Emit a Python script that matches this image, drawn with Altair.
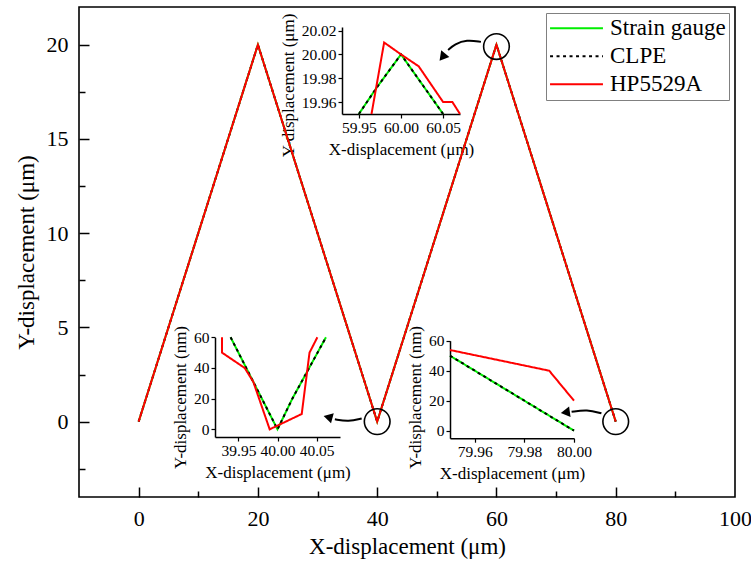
import altair as alt
import pandas as pd

FONT = "'Liberation Serif', 'Times New Roman', Times, serif"
W, H = 656, 490

series_names = ["Strain gauge", "CLPE", "HP5529A"]
series_colors = ["#00ee00", "#000000", "#ff0000"]
series_dashes = [[1, 0], [3, 3.5], [1, 0]]

# main triangle path (all three sensors)
main_x = [0, 20, 40, 60, 80]
main_y = [0, 20, 0, 20, 0]

# inset 1: around the peak at 60 um (um units)
in1_sg_x = [59.95, 59.97, 60.00, 60.05]
in1_sg_y = [19.95, 19.971, 20.00, 19.95]
in1_clpe_x = [59.95, 59.97, 60.00, 60.05]
in1_clpe_y = [19.95, 19.971, 20.00, 19.95]
in1_hp_x = [59.965, 59.98, 60.00, 60.021, 60.05, 60.061, 60.07]
in1_hp_y = [19.95, 20.01, 20.00, 19.99, 19.96, 19.96, 19.95]

# inset 2: around the valley at 40 um (y in nm)
in2_sg_x = [39.94, 40.00, 40.019, 40.062]
in2_sg_y = [60, 0, 20, 60]
in2_clpe_x = [39.94, 40.00, 40.019, 40.062]
in2_clpe_y = [60, 0, 20, 60]
in2_hp_x = [39.929, 39.929, 39.958, 39.969, 39.99, 40.031, 40.041, 40.051]
in2_hp_y = [60, 50, 40, 31, 0, 10, 50, 60]

# inset 3: near the end at 80 um (y in nm)
in3_sg_x = [79.95, 80.00]
in3_sg_y = [50, 0]
in3_clpe_x = [79.95, 80.00]
in3_clpe_y = [50, 0]
in3_hp_x = [79.95, 79.99, 80.00]
in3_hp_y = [53.8, 40, 20]

# circles marking zoomed regions
circle_x = [40, 60, 80]
circle_y = [0, 19.9, 0]

# curved arrows (main-chart data coordinates)
arrow_id = ["a1", "a1", "a1", "a1", "a2", "a2", "a2", "a3", "a3", "a3"]
arrow_x = [57.4, 55.0, 53.0, 51.9, 37.4, 35.2, 32.9, 77.6, 75.2, 72.6]
arrow_y = [20.15, 20.26, 20.03, 19.72, 0.17, -0.01, 0.12, 0.44, 0.65, 0.52]
head_x = [51.1, 32.0, 71.8]
head_y = [19.4, 0.22, 0.5]
head_angle = [219, 285, 262]

main_x_ticks = [0, 20, 40, 60, 80, 100]
main_x_major = [0, 20, 40, 60, 80]
main_x_minor = [10, 30, 50, 70, 90]
main_y_ticks = [0, 5, 10, 15, 20]
main_y_minor = [-2.5, 2.5, 7.5, 12.5, 17.5]


def long_df(parts):
    rows = []
    for name, xs, ys in parts:
        for i, (a, b) in enumerate(zip(xs, ys)):
            rows.append({"series": name, "x": a, "y": b, "i": i})
    return pd.DataFrame(rows)


def sc(domain, rng=None):
    kw = dict(domain=domain, nice=False, zero=False)
    if rng is not None:
        kw["range"] = rng
    return alt.Scale(**kw)


legend = alt.Legend(
    title=None, orient="top-right", offset=6, symbolType="stroke",
    symbolSize=2800, symbolStrokeWidth=2, labelFont=FONT, labelFontSize=23,
    labelColor="black", strokeColor="#808080", fillColor="white",
    padding=3, rowPadding=3, labelOffset=6, clipHeight=24.5,
)
color_enc = alt.Color("series:N", scale=alt.Scale(domain=series_names, range=series_colors), legend=legend)
dash_enc = alt.StrokeDash("series:N", scale=alt.Scale(domain=series_names, range=series_dashes), legend=legend)

MX = [-10, 100]
MY = [-4, 22]

main_df = long_df([(n, main_x, main_y) for n in series_names])
main_lines = alt.Chart(main_df).mark_line(strokeWidth=2).encode(
    x=alt.X("x:Q", scale=sc(MX), axis=alt.Axis(
        orient="bottom", values=main_x_ticks, ticks=False, domain=False, format="d",
        labelFont=FONT, titleFont=FONT,
        labelFontSize=22, labelPadding=11, title="X-displacement (μm)",
        titleFontSize=23, titlePadding=6)),
    y=alt.Y("y:Q", scale=sc(MY), axis=alt.Axis(
        orient="left", values=main_y_ticks, ticks=False, domain=False, format="d",
        labelFont=FONT, titleFont=FONT,
        labelFontSize=22, labelPadding=11, title="Y-displacement (μm)",
        titleFontSize=23, titlePadding=8)),
    color=color_enc, strokeDash=dash_enc, order="i:Q",
)

circ_df = pd.DataFrame({"x": circle_x, "y": circle_y})
circles = alt.Chart(circ_df).mark_point(
    shape="circle", size=660, filled=False, color="black", strokeWidth=1.6, opacity=1
).encode(
    x=alt.X("x:Q", scale=sc(MX), axis=alt.Axis(
        orient="top", offset=-H, values=main_x_major, labels=False, domain=False,
        tickSize=10, tickWidth=1.5, title=None)),
    y=alt.Y("y:Q", scale=sc(MY), axis=alt.Axis(
        orient="right", offset=-W, values=main_y_ticks, labels=False, domain=False,
        tickSize=10, tickWidth=1.5, title=None)),
)

arr_df = pd.DataFrame({"arrow": arrow_id, "x": arrow_x, "y": arrow_y})
arrows = alt.Chart(arr_df).mark_line(interpolate="basis", color="black", strokeWidth=2).encode(
    x=alt.X("x:Q", scale=sc(MX), axis=alt.Axis(
        orient="top", offset=-H, values=main_x_minor, labels=False, domain=False,
        tickSize=6, tickWidth=1.5, title=None)),
    y=alt.Y("y:Q", scale=sc(MY), axis=alt.Axis(
        orient="right", offset=-W, values=main_y_minor, labels=False, domain=False,
        tickSize=6, tickWidth=1.5, title=None)),
    detail="arrow:N",
)

head_df = pd.DataFrame({"x": head_x, "y": head_y, "a": head_angle})
heads = alt.Chart(head_df).mark_point(
    shape="triangle", filled=True, color="black", size=110, strokeWidth=0, opacity=1
).encode(
    x=alt.X("x:Q", scale=sc(MX), axis=None),
    y=alt.Y("y:Q", scale=sc(MY), axis=None),
    angle=alt.Angle("a:Q", scale=None),
)


def inset(parts, xdom, xrng, xvals, xfmt, ydom, yrng, yvals, yfmt, ytitle, xoff, yoff, ytitle_y):
    df = long_df(parts)
    ax_common = dict(labelFont=FONT, titleFont=FONT, labelFontSize=15.5, titleFontSize=17,
                     tickSize=4, tickWidth=1.2, domainWidth=1.5, labelPadding=2)
    return alt.Chart(df).mark_line(strokeWidth=2).encode(
        x=alt.X("x:Q", scale=sc(xdom, xrng), axis=alt.Axis(
            orient="bottom", offset=xoff, values=xvals, format=xfmt,
            title="X-displacement (μm)", titlePadding=6, **ax_common)),
        y=alt.Y("y:Q", scale=sc(ydom, yrng), axis=alt.Axis(
            orient="left", offset=yoff, values=yvals, format=yfmt,
            title=ytitle, titlePadding=4, titleY=ytitle_y, **ax_common)),
        color=color_enc, strokeDash=dash_enc, order="i:Q",
    )


inset1 = inset(
    [("Strain gauge", in1_sg_x, in1_sg_y), ("CLPE", in1_clpe_x, in1_clpe_y), ("HP5529A", in1_hp_x, in1_hp_y)],
    [59.93, 60.07], [263, 381], [59.95, 60.00, 60.05], ".2f",
    [19.95, 20.023], [107, 20], [19.96, 19.98, 20.00, 20.02], ".2f",
    "Y-displacement (μm)", 107 - H, -263, 78,
)
inset2 = inset(
    [("Strain gauge", in2_sg_x, in2_sg_y), ("CLPE", in2_clpe_x, in2_clpe_y), ("HP5529A", in2_hp_x, in2_hp_y)],
    [39.92, 40.08], [136, 261], [39.95, 40.00, 40.05], ".2f",
    [-5, 60], [430, 330.3], [0, 20, 40, 60], "d",
    "Y-displacement (nm)", 430 - H, -136, 390,
)
inset3 = inset(
    [("Strain gauge", in3_sg_x, in3_sg_y), ("CLPE", in3_clpe_x, in3_clpe_y), ("HP5529A", in3_hp_x, in3_hp_y)],
    [79.95, 80.00], [371, 495], [79.96, 79.98, 80.00], ".2f",
    [-5, 60], [431.2, 333.7], [0, 20, 40, 60], "d",
    "Y-displacement (nm)", 431.2 - H, -371, 390,
)

chart = alt.layer(main_lines, circles, arrows, heads, inset1, inset2, inset3).resolve_scale(
    x="independent", y="independent"
).resolve_axis(
    x="independent", y="independent"
).properties(
    width=W, height=H,
    autosize=alt.AutoSizeParams(type="none"),
    padding={"left": 79, "top": 7, "right": 16, "bottom": 76},
    background="white",
).configure_view(
    stroke="black", strokeWidth=1.6
).configure_axis(
    grid=False, labelFont=FONT, titleFont=FONT, labelColor="black", titleColor="black",
    domainColor="black", tickColor="black", titleFontWeight="normal",
    labelFlush=False, labelOverlap=False,
).configure_legend(
    labelFont=FONT
)

chart.save("out.html", embed_options={"renderer": "svg", "actions": False})
